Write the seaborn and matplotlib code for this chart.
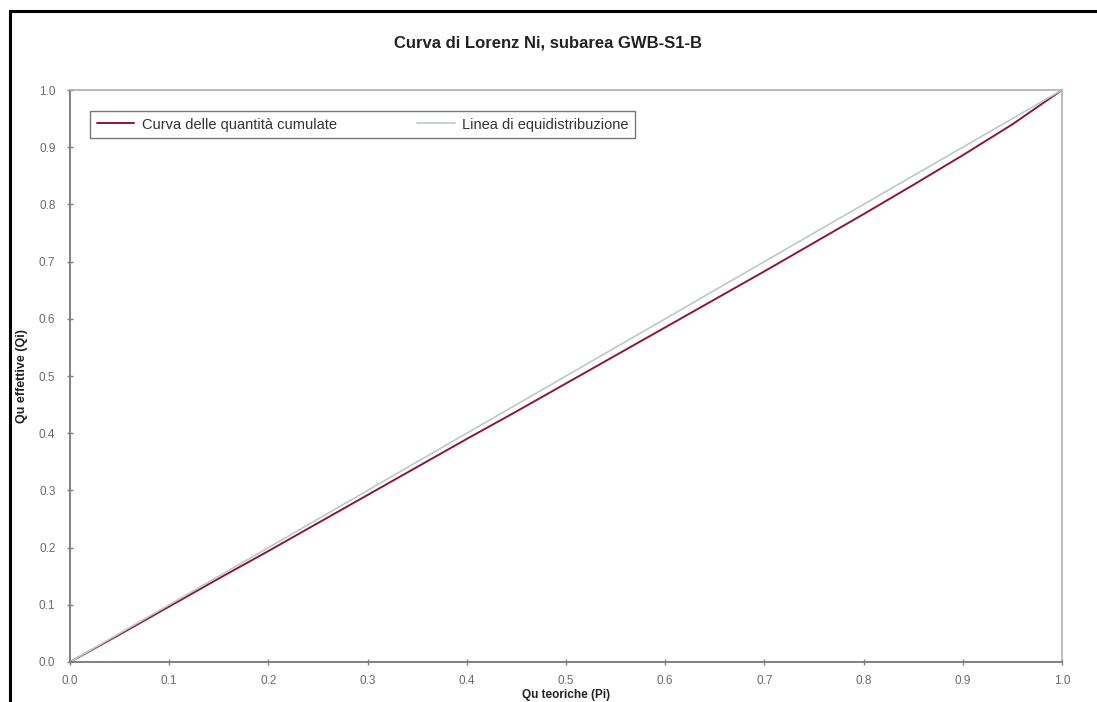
import matplotlib
matplotlib.use("Agg")
import matplotlib.pyplot as plt
import seaborn as sns
import pandas as pd
from matplotlib.patches import Rectangle

# Data
p_values = [0.0, 0.05, 0.10, 0.15, 0.20, 0.25, 0.30, 0.35, 0.40, 0.45, 0.50,
            0.55, 0.60, 0.65, 0.70, 0.75, 0.80, 0.85, 0.90, 0.95, 1.0]
q_values = [0.0, 0.048, 0.097, 0.146, 0.194, 0.243, 0.292, 0.341, 0.390, 0.438, 0.487,
            0.536, 0.585, 0.634, 0.683, 0.733, 0.783, 0.834, 0.886, 0.940, 1.0]
equi_x = [0.0, 1.0]
equi_y = [0.0, 1.0]
x_ticks = [0.0, 0.1, 0.2, 0.3, 0.4, 0.5, 0.6, 0.7, 0.8, 0.9, 1.0]
y_ticks = [0.0, 0.1, 0.2, 0.3, 0.4, 0.5, 0.6, 0.7, 0.8, 0.9, 1.0]

title = "Curva di Lorenz Ni, subarea GWB-S1-B"
label_curve = "Curva delle quantità cumulate"
label_equi = "Linea di equidistribuzione"

sns.set_theme(style="white")
plt.rcParams['font.family'] = ['Liberation Sans', 'DejaVu Sans']

fig = plt.figure(figsize=(10.97, 7.02), dpi=100)
ax = fig.add_axes([70/1097, 1 - 662/702, (1062-70)/1097, (662-90)/702])

df_curve = pd.DataFrame({"P": p_values, "Q": q_values})
df_equi = pd.DataFrame({"P": equi_x, "Q": equi_y})

sns.lineplot(data=df_curve, x="P", y="Q", ax=ax, color="#8c1836", lw=1.4,
             label=label_curve, sort=False)
sns.lineplot(data=df_equi, x="P", y="Q", ax=ax, color="#bcc9c4", lw=1.2,
             label=label_equi, sort=False)

ax.set_xlim(0, 1)
ax.set_ylim(0, 1)
ax.set_xticks(x_ticks)
ax.set_yticks(y_ticks)
ax.set_xticklabels([f"{v:.1f}" for v in x_ticks])
ax.set_yticklabels([f"{v:.1f}" for v in y_ticks])
ax.tick_params(axis='both', labelsize=8.5, colors="#808080", labelcolor="#6a6a6a",
               direction='inout', length=5, width=1, bottom=True, left=True, pad=8)
ax.tick_params(axis='x', pad=7)

for side in ['top', 'right']:
    ax.spines[side].set_color("#b0b0b0")
    ax.spines[side].set_linewidth(1.2)
for side in ['left', 'bottom']:
    ax.spines[side].set_color("#808080")
    ax.spines[side].set_linewidth(1.4)

ax.set_xlabel("Qu teoriche (Pi)", fontsize=8.5, fontweight='bold', color="#222222", labelpad=1)
ax.set_ylabel("Qu effettive (Qi)", fontsize=9, fontweight='bold', color="#222222", labelpad=8)
fig.text(0.5, 1 - 43/702, title, ha='center', va='center', fontsize=12,
         fontweight='bold', color="#222222")

leg = ax.legend(loc='upper left', bbox_to_anchor=(90/1097, 1 - 111/702),
                bbox_transform=fig.transFigure, ncol=2, frameon=True,
                fontsize=10.5, handlelength=2.6, columnspacing=5.5,
                borderpad=0.45, borderaxespad=0, fancybox=False, handletextpad=0.5)
leg.get_frame().set_edgecolor("#555555")
leg.get_frame().set_linewidth(1.0)
for t in leg.get_texts():
    t.set_color("#333333")

# outer chart border
fig.patches.append(Rectangle((10/1097, -0.05), 1.2, 1 - 11/702 + 0.05,
                             transform=fig.transFigure, fill=False,
                             edgecolor="black", linewidth=2.2))

fig.savefig("out.png", dpi=100)
